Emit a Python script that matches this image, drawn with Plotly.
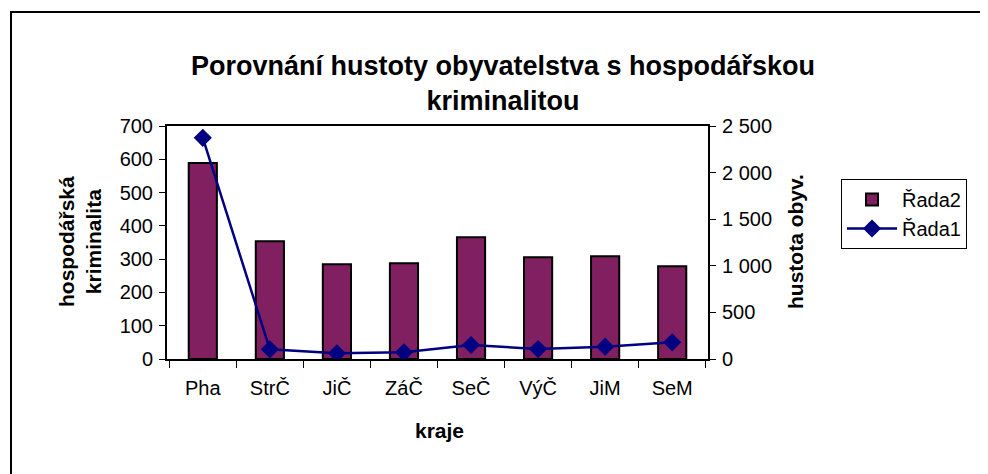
import plotly.graph_objects as go

categories = ["Pha", "StrČ", "JiČ", "ZáČ", "SeČ", "VýČ", "JiM", "SeM"]
crime = [589, 354, 285, 288, 366, 306, 309, 279]          # Řada2 – hospodářská kriminalita
density = [2373, 104, 61, 72, 150, 107, 132, 179]         # Řada1 – hustota obyv.

y1_ticks = [0, 100, 200, 300, 400, 500, 600, 700]
y2_ticks = [0, 500, 1000, 1500, 2000, 2500]
y2_labels = ["0", "500", "1 000", "1 500", "2 000", "2 500"]

FONT = "Arial, Liberation Sans, sans-serif"
W, H = 988, 474
OFF = 8  # page body margin
L, R, T, B = 167 - OFF, 708 - OFF, 126 - OFF, 359 - OFF  # plot area in figure pixels

def px_x(p):
    return (p - OFF - L) / (R - L)

def px_y(p):
    return (B - (p - OFF)) / (B - T)

fig = go.Figure()
fig.add_trace(go.Bar(
    x=categories, y=crime, name="Řada2",
    marker=dict(color="#802060", line=dict(color="black", width=2)),
    yaxis="y",
))
fig.add_trace(go.Scatter(
    x=categories, y=density, name="Řada1", mode="lines+markers",
    line=dict(color="#000080", width=2.5),
    marker=dict(symbol="diamond", size=14, color="#000080"),
    yaxis="y2",
))

fig.update_layout(
    width=W, height=H,
    margin=dict(l=L, r=W - R, t=T, b=H - B, pad=0),
    paper_bgcolor="white", plot_bgcolor="white",
    font=dict(family=FONT, size=20, color="black"),
    bargap=0.58,
    showlegend=True,
    legend=dict(
        x=px_x(841), y=px_y(179), xanchor="left", yanchor="top",
        bordercolor="black", borderwidth=1, bgcolor="white",
        font=dict(family=FONT, size=20, color="black"),
        traceorder="normal", itemwidth=50,
    ),
    title=dict(
        text="<b>Porovnání hustoty obyvatelstva s hospodářskou<br>kriminalitou</b>",
        font=dict(family=FONT, size=27, color="black"),
        x=(503 - OFF) / W, xref="container", xanchor="center",
        y=1 - (74.5 - OFF) / H, yref="container", yanchor="middle",
    ),
    xaxis=dict(
        type="category", showline=True, linecolor="black", linewidth=2, mirror=True,
        ticks="outside", ticklen=7, tickwidth=1, tickcolor="black", tickson="boundaries",
        showgrid=False, tickfont=dict(size=20), fixedrange=True, ticklabelstandoff=10,
    ),
    yaxis=dict(
        range=[0, 700], tickvals=y1_ticks, showline=True, linecolor="black", linewidth=2,
        ticks="outside", ticklen=6, tickwidth=1, tickcolor="black",
        showgrid=False, zeroline=False, tickfont=dict(size=20), ticklabelstandoff=2,
    ),
    yaxis2=dict(
        range=[0, 2500], tickvals=y2_ticks, ticktext=y2_labels, overlaying="y", side="right",
        showline=True, linecolor="black", linewidth=2,
        ticks="outside", ticklen=6, tickwidth=1, tickcolor="black",
        showgrid=False, zeroline=False, tickfont=dict(size=20), ticklabelstandoff=2,
    ),
    annotations=[
        dict(text="<b>hospodářská<br>kriminalita</b>", textangle=-90,
             x=px_x(80), y=px_y(242), xref="paper", yref="paper",
             xanchor="center", yanchor="middle", showarrow=False,
             font=dict(family=FONT, size=21, color="black")),
        dict(text="<b>hustota obyv.</b>", textangle=-90,
             x=px_x(795), y=px_y(242), xref="paper", yref="paper",
             xanchor="center", yanchor="middle", showarrow=False,
             font=dict(family=FONT, size=21, color="black")),
        dict(text="<b>kraje</b>",
             x=px_x(439), y=px_y(430), xref="paper", yref="paper",
             xanchor="center", yanchor="middle", showarrow=False,
             font=dict(family=FONT, size=21, color="black")),
    ],
    shapes=[
        dict(type="line", xref="paper", yref="paper",
             x0=px_x(11), x1=px_x(11), y0=px_y(12), y1=px_y(490),
             line=dict(color="black", width=2)),
        dict(type="line", xref="paper", yref="paper",
             x0=px_x(10), x1=px_x(1000), y0=px_y(12), y1=px_y(12),
             line=dict(color="black", width=2)),
    ],
)

fig.write_html("out.html")
